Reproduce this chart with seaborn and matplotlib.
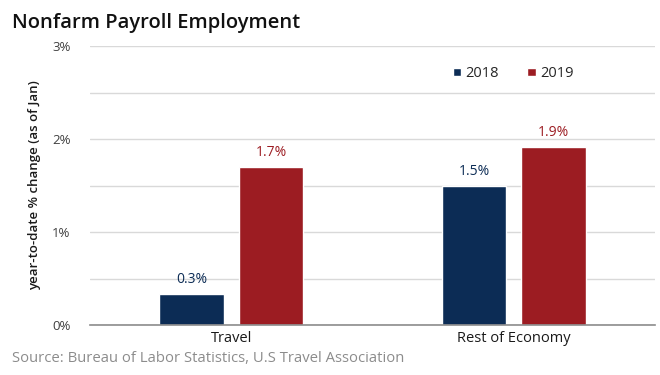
import pandas as pd
import numpy as np
import matplotlib.pyplot as plt
import seaborn as sns
from matplotlib.ticker import MultipleLocator, FuncFormatter

sns.set_theme(style="white")
plt.rcParams['font.family'] = ['Open Sans', 'DejaVu Sans']

# Datos
categorias = ['Travel', 'Rest of Economy']
anios = ['2018', '2019']
valores_2018 = [0.33, 1.49]
valores_2019 = [1.70, 1.91]
etiquetas_2018 = ['0.3%', '1.5%']
etiquetas_2019 = ['1.7%', '1.9%']

colores = {'2018': '#0c2c55', '2019': '#9c1c22'}

df = pd.DataFrame({
    'Categoria': categorias * 2,
    'Año': ['2018'] * 2 + ['2019'] * 2,
    'Valor': valores_2018 + valores_2019,
})

fig = plt.figure(figsize=(6.6, 3.75), dpi=100)
ax = fig.add_axes([90 / 660, 1 - 325 / 375, 565 / 660, 279 / 375])

sns.barplot(data=df, x='Categoria', y='Valor', hue='Año', palette=colores,
            width=0.563, gap=0.19, ax=ax, saturation=1, legend=True)

# Etiquetas de valor
for cont, etiquetas, anio in zip(ax.containers, [etiquetas_2018, etiquetas_2019], anios):
    ax.bar_label(cont, labels=etiquetas, padding=5, color=colores[anio], fontsize=10)

ax.set_ylim(0, 3)
ax.set_xlim(-0.5, 1.5)
ax.yaxis.set_major_locator(MultipleLocator(1))
ax.yaxis.set_minor_locator(MultipleLocator(0.5))
ax.yaxis.set_major_formatter(FuncFormatter(lambda v, p: f'{v:.0f}%'))
ax.grid(True, which='both', axis='y', color='#d9d9d9', linewidth=1)
ax.set_axisbelow(True)
ax.tick_params(axis='y', which='both', length=0, labelsize=9.5, labelcolor='#404040', pad=14)
ax.tick_params(axis='x', length=0, labelsize=10.5, labelcolor='#1a1a1a', pad=4)
for s in ['top', 'right', 'left']:
    ax.spines[s].set_visible(False)
ax.spines['bottom'].set_color('#8c8c8c')
ax.spines['bottom'].set_linewidth(1.2)

ax.set_xlabel('')
ax.set_ylabel('year-to-date % change (as of Jan)', fontsize=9.5, fontweight='semibold',
              color='#1a1a1a', labelpad=8)

ax.legend(title=None, frameon=False, ncol=2, loc='upper right',
          bbox_to_anchor=(0.879, 0.975), fontsize=10.5, handlelength=0.6, handleheight=0.42,
          handletextpad=0.3, columnspacing=1.9)

fig.text(12 / 660, 1 - 23 / 375, 'Nonfarm Payroll Employment', fontsize=14.5,
         fontweight='semibold', color='#111111', va='center', ha='left')
fig.text(12 / 660, 1 - 359 / 375, 'Source: Bureau of Labor Statistics, U.S Travel Association',
         fontsize=10.7, color='#8c8c8c', va='center', ha='left')

plt.savefig('out.png', dpi=100)
